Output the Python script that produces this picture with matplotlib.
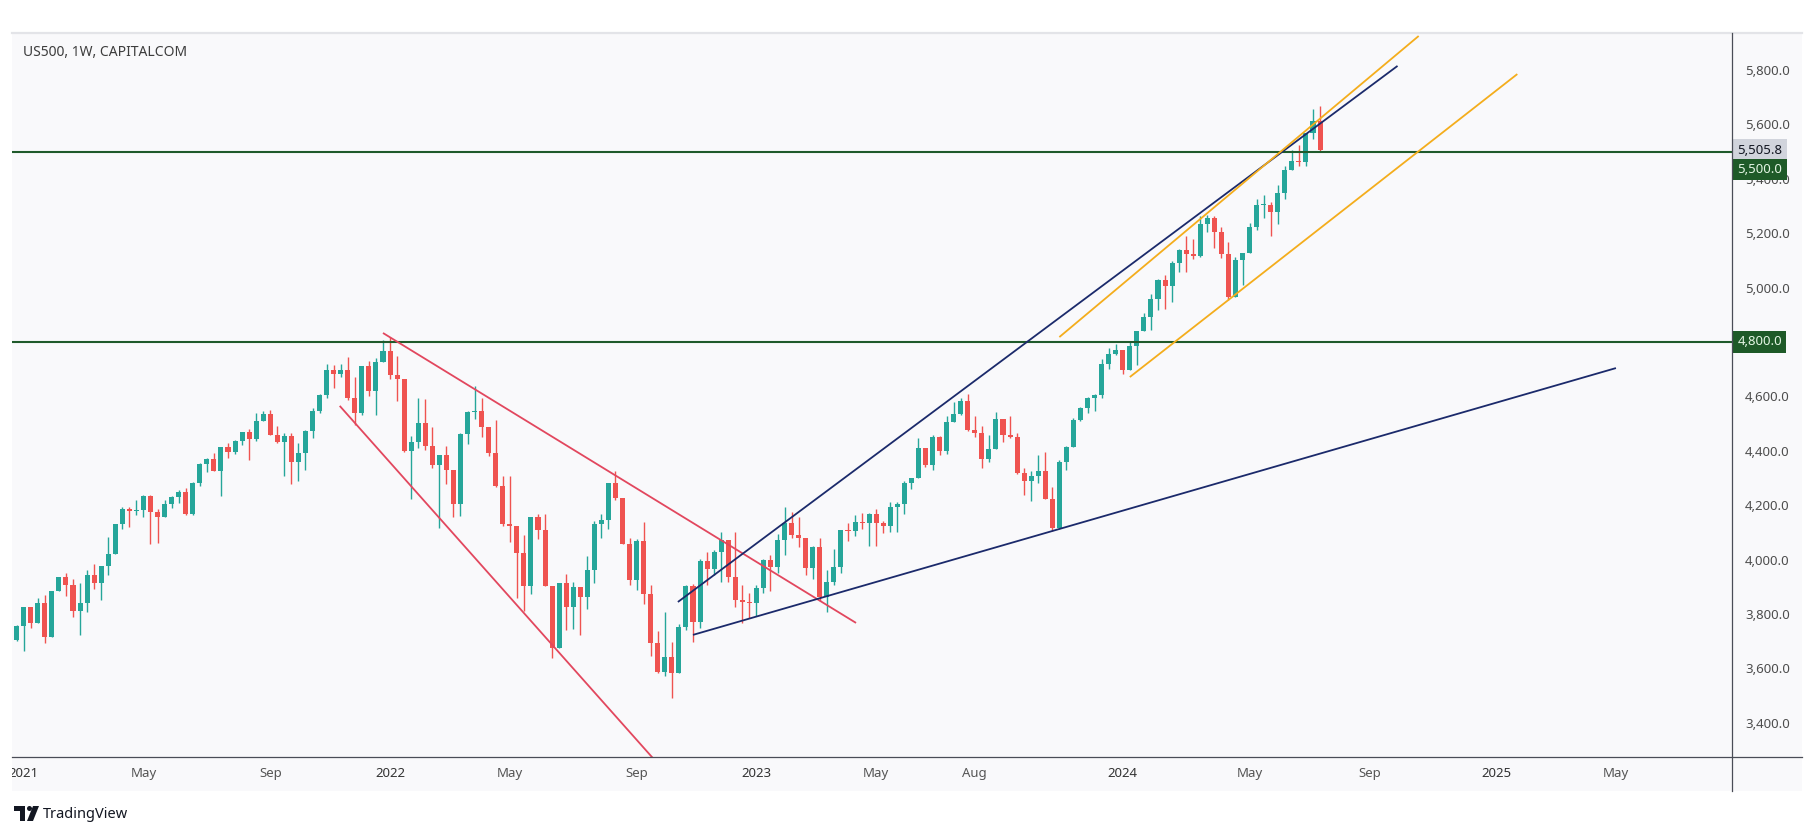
import numpy as np
import pandas as pd
import matplotlib
matplotlib.use('Agg')
import matplotlib.pyplot as plt
import matplotlib.dates as mdates
from matplotlib.patches import Rectangle, Polygon, Ellipse
from matplotlib.lines import Line2D

plt.rcParams['font.family'] = ['Noto Sans', 'DejaVu Sans']

# US500 weekly candles, first bar = week of 2020-12-28, last bar = week of 2024-07-15
open_ = [3705,
         # 2021
         3756, 3824, 3768, 3841, 3714, 3886, 3934, 3907, 3811, 3842, 3943, 3913, 3975, 4020, 4129, 4185, 4180, 4181,
         4233, 4174, 4156, 4204, 4230, 4247, 4166, 4281, 4352, 4370, 4327, 4412, 4395, 4437, 4468, 4442, 4509, 4535,
         4458, 4433, 4455, 4357, 4391, 4471, 4545, 4605, 4698, 4682, 4698, 4595, 4538, 4712, 4620, 4725,
         # 2022
         4766, 4677, 4663, 4398, 4432, 4501, 4419, 4349, 4385, 4329, 4204, 4463, 4543, 4546, 4488, 4392, 4272, 4132,
         4123, 4024, 3901, 4158, 4109, 3901, 3675, 3912, 3825, 3899, 3863, 3962, 4130, 4145, 4280, 4228, 4058, 3924,
         4067, 3873, 3693, 3586, 3640, 3583, 3752, 3901, 3771, 3993, 3965, 4026, 4072, 3934, 3852, 3845,
         # 2023
         3840, 3895, 3999, 3973, 4071, 4136, 4090, 4079, 3970, 4045, 3861, 3917, 3971, 4109, 4105, 4138, 4133, 4169,
         4136, 4124, 4192, 4205, 4282, 4299, 4410, 4348, 4450, 4399, 4505, 4536, 4582, 4478, 4464, 4370, 4406, 4516,
         4457, 4450, 4320, 4288, 4309, 4327, 4224, 4117, 4358, 4415, 4514, 4559, 4595, 4604, 4719, 4754,
         # 2024
         4770, 4697, 4784, 4840, 4891, 4959, 5027, 5006, 5089, 5137, 5124, 5117, 5234, 5254, 5204, 5123, 4967, 5100,
         5128, 5223, 5303, 5305, 5278, 5347, 5432, 5465, 5460, 5567, 5612]

high = [3760,
        3827, 3824, 3860, 3870, 3886, 3937, 3950, 3929, 3915, 3960, 3983, 3978, 4083, 4130, 4192, 4194, 4218, 4238,
        4236, 4186, 4218, 4233, 4255, 4262, 4286, 4356, 4372, 4393, 4415, 4429, 4440, 4470, 4480, 4537, 4545, 4549,
        4492, 4465, 4466, 4430, 4475, 4559, 4608, 4718, 4714, 4718, 4743, 4672, 4713, 4731, 4740, 4808,
        4818, 4749, 4663, 4453, 4595, 4590, 4489, 4385, 4416, 4329, 4465, 4546, 4637, 4593, 4488, 4512, 4309, 4307,
        4123, 4091, 4158, 4168, 4168, 3901, 3914, 3946, 3918, 3899, 4013, 4141, 4167, 4280, 4325, 4228, 4080, 4076,
        4139, 3907, 3736, 3807, 3698, 3762, 3905, 3911, 4001, 4028, 4034, 4100, 4072, 4101, 3906, 3878,
        3906, 4003, 4015, 4095, 4195, 4176, 4156, 4079, 4048, 4079, 3962, 4039, 4110, 4133, 4163, 4170, 4170, 4186,
        4143, 4212, 4213, 4290, 4299, 4448, 4410, 4458, 4456, 4528, 4578, 4594, 4607, 4528, 4490, 4458, 4541, 4516,
        4527, 4466, 4338, 4324, 4385, 4394, 4268, 4366, 4416, 4521, 4560, 4598, 4609, 4738, 4778, 4793,
        4770, 4802, 4842, 4907, 4975, 5030, 5048, 5097, 5140, 5190, 5179, 5262, 5265, 5264, 5222, 5169, 5111, 5127,
        5239, 5325, 5342, 5315, 5376, 5447, 5506, 5524, 5570, 5655, 5669]

low = [3700,
       3662, 3750, 3768, 3694, 3714, 3884, 3866, 3789, 3723, 3806, 3890, 3853, 3944, 4020, 4113, 4118, 4164, 4158,
       4056, 4062, 4156, 4191, 4208, 4164, 4164, 4271, 4321, 4327, 4233, 4372, 4387, 4420, 4367, 4436, 4509, 4458,
       4427, 4306, 4278, 4288, 4329, 4447, 4537, 4595, 4630, 4672, 4585, 4495, 4532, 4600, 4531, 4725,
       4662, 4582, 4395, 4222, 4410, 4401, 4335, 4115, 4279, 4157, 4161, 4424, 4517, 4450, 4381, 4267, 4124, 4063,
       3859, 3811, 3875, 4074, 3901, 3637, 3675, 3741, 3743, 3722, 3819, 3913, 4080, 4112, 4218, 4057, 3907, 3887,
       3838, 3647, 3584, 3573, 3491, 3583, 3741, 3698, 3750, 3906, 3944, 3919, 3918, 3827, 3765, 3784,
       3794, 3877, 3885, 3950, 4015, 4079, 4047, 3943, 3928, 3847, 3808, 3906, 3951, 4069, 4086, 4113, 4049, 4048,
       4099, 4103, 4103, 4166, 4261, 4299, 4341, 4329, 4385, 4389, 4505, 4530, 4474, 4452, 4335, 4357, 4406, 4431,
       4448, 4316, 4238, 4216, 4283, 4223, 4104, 4114, 4330, 4412, 4510, 4537, 4546, 4593, 4700, 4751,
       4682, 4697, 4714, 4840, 4845, 4918, 4920, 4946, 5058, 5057, 5104, 5111, 5204, 5146, 5107, 4953, 4967, 5011,
       5128, 5212, 5257, 5191, 5234, 5324, 5432, 5447, 5448, 5546, 5497]

close = [3756,
         3824, 3768, 3841, 3714, 3886, 3934, 3907, 3811, 3842, 3943, 3913, 3975, 4020, 4129, 4185, 4180, 4181, 4233,
         4174, 4156, 4204, 4230, 4247, 4166, 4281, 4352, 4370, 4327, 4412, 4395, 4437, 4468, 4442, 4509, 4535, 4458,
         4433, 4455, 4357, 4391, 4471, 4545, 4605, 4698, 4682, 4698, 4595, 4538, 4712, 4620, 4725, 4766,
         4677, 4663, 4398, 4432, 4501, 4419, 4349, 4385, 4329, 4204, 4463, 4543, 4546, 4488, 4392, 4272, 4132, 4123,
         4024, 3901, 4158, 4109, 3901, 3675, 3912, 3825, 3899, 3863, 3962, 4130, 4145, 4280, 4228, 4058, 3924, 4067,
         3873, 3693, 3586, 3640, 3583, 3752, 3901, 3771, 3993, 3965, 4026, 4072, 3934, 3852, 3845, 3840,
         3895, 3999, 3973, 4071, 4136, 4090, 4079, 3970, 4045, 3861, 3917, 3971, 4109, 4105, 4138, 4133, 4169, 4136,
         4124, 4192, 4205, 4282, 4299, 4410, 4348, 4450, 4399, 4505, 4536, 4582, 4478, 4464, 4370, 4406, 4516, 4457,
         4450, 4320, 4288, 4309, 4327, 4224, 4117, 4358, 4415, 4514, 4559, 4595, 4604, 4719, 4754, 4770,
         4697, 4784, 4840, 4891, 4959, 5027, 5006, 5089, 5137, 5124, 5117, 5234, 5254, 5204, 5123, 4967, 5100, 5128,
         5223, 5303, 5305, 5278, 5347, 5432, 5465, 5460, 5567, 5612, 5506]

last_price = 5505.8
levels = [5500, 4800]

# drawn trend lines: (dates, prices)
red_upper = (['2021-12-27', '2023-04-11'], [4833, 3767])
red_lower = (['2021-11-14', '2022-11-01'], [4565, 3100])
navy_upper = (['2022-10-16', '2024-09-30'], [3844, 5815])
navy_lower = (['2022-10-31', '2025-05-05'], [3723, 4704])
orange_upper = (['2023-10-30', '2024-10-21'], [4818, 5925])
orange_lower = (['2024-01-08', '2025-01-27'], [4671, 5785])

tick_dates = ['2021-01-04', '2021-05-03', '2021-09-06', '2022-01-03', '2022-05-02', '2022-09-05', '2023-01-02',
              '2023-05-01', '2023-08-07', '2024-01-01', '2024-05-06', '2024-09-02', '2025-01-06', '2025-05-05']
tick_text = ['2021', 'May', 'Sep', '2022', 'May', 'Sep', '2023', 'May', 'Aug', '2024', 'May', 'Sep', '2025', 'May']
price_ticks = list(range(3400, 5801, 200))

W, H = 1815, 836
fig = plt.figure(figsize=(W / 100, H / 100), dpi=100)
fig.patch.set_facecolor('white')


def fx(px):
    return px / W


def fy(py):
    return 1 - py / H


panel_bg = '#f9f9fb'
frame = Rectangle((fx(12.5), fy(791)), (1802 - 12.5) / W, (791 - 33) / H, transform=fig.transFigure,
                  facecolor=panel_bg, edgecolor='none', zorder=-5)
fig.patches.append(frame)

ax = fig.add_axes([fx(12.5), fy(757), (1732.5 - 12.5) / W, (757 - 33) / H])
ax.set_facecolor(panel_bg)
for s in ax.spines.values():
    s.set_visible(False)

x = mdates.date2num(pd.date_range('2020-12-28', periods=len(close), freq='W-MON'))
o = np.array(open_)
c = np.array(close)
colors = np.where(c >= o, '#26a69a', '#ef5350')
ax.vlines(x, low, high, colors=colors, lw=1, zorder=2)
ax.bar(x, np.maximum(np.abs(c - o), 3), bottom=np.minimum(o, c), width=5, color=colors, linewidth=0, zorder=3)

for lv in levels:
    ax.axhline(lv, color='#1f5a2b', lw=1.5, zorder=4)


def trend(line, color):
    d, p = line
    ax.plot(mdates.date2num(pd.to_datetime(d)), p, color=color, lw=1.3, zorder=5, solid_capstyle='butt')


trend(red_upper, '#e2475e')
trend(red_lower, '#e2475e')
trend(navy_upper, '#1b2a6b')
trend(navy_lower, '#1b2a6b')
trend(orange_upper, '#f4ad1c')
trend(orange_lower, '#f4ad1c')

x0 = mdates.date2num(pd.Timestamp('2022-01-03'))
ax.set_xlim(x0 - 375.1, x0 + 1333.8)
ax.set_ylim(3274, 5936)

ax.set_xticks(mdates.date2num(pd.to_datetime(tick_dates)))
ax.set_xticklabels(tick_text)
ax.tick_params(axis='x', length=0, pad=7, labelsize=9.5, labelcolor='#555555')
clip_rect = Rectangle((fx(12.5), 0), (1802 - 12.5) / W, 1, transform=fig.transFigure)
for lbl in ax.get_xticklabels():
    if lbl.get_text().isdigit():
        lbl.set_fontweight('bold')
        lbl.set_color('#333333')
    lbl.set_clip_path(clip_rect)

# the 4,800.0 scale label sits fully under the level tag
ax.yaxis.tick_right()
ax.set_yticks(price_ticks)
ax.set_yticklabels(['' if v in levels else '{:,.1f}'.format(v) for v in price_ticks])
ax.tick_params(axis='y', length=0, pad=9, labelsize=9.5, labelcolor='#4d4d4d')

# price labels on the scale
ax.annotate('{:,.1f}'.format(last_price), xy=(1, last_price), xycoords=('axes fraction', 'data'),
            xytext=(5, 0), textcoords='offset pixels', ha='left', va='center', fontsize=9.5, color='#131722',
            bbox=dict(boxstyle='square,pad=0.32', fc='#d1d4dc', ec='none'), annotation_clip=False, zorder=10)
ax.annotate('{:,.1f}'.format(levels[0]), xy=(1, levels[0]), xycoords=('axes fraction', 'data'),
            xytext=(5, -18), textcoords='offset pixels', ha='left', va='center', fontsize=9.5, color='#e3f5e3',
            bbox=dict(boxstyle='square,pad=0.32', fc='#1e5a28', ec='none'), annotation_clip=False, zorder=10)
ax.annotate('{:,.1f}'.format(levels[1]), xy=(1, levels[1]), xycoords=('axes fraction', 'data'),
            xytext=(5, 0), textcoords='offset pixels', ha='left', va='center', fontsize=9.5, color='#e3f5e3',
            bbox=dict(boxstyle='square,pad=0.32', fc='#1e5a28', ec='none'), annotation_clip=False, zorder=10)

# frame lines
fig.lines.append(Line2D([fx(12.5), fx(1802)], [fy(33), fy(33)], transform=fig.transFigure, color='#e3e4e8', lw=1.6))
fig.lines.append(Line2D([fx(1732.5), fx(1732.5)], [fy(33), fy(791)], transform=fig.transFigure, color='#4a4d57', lw=0.9))
fig.lines.append(Line2D([fx(12.5), fx(1802)], [fy(757), fy(757)], transform=fig.transFigure, color='#4a4d57', lw=0.9))

fig.text(fx(23), fy(53), 'US500, 1W, CAPITALCOM', fontsize=10, color='#3d3d3d', ha='left', va='center')

# TradingView mark
logo = '#131722'
fig.patches.append(Polygon([(fx(14), fy(806)), (fx(25), fy(806)), (fx(25), fy(821)), (fx(20), fy(821)),
                            (fx(20), fy(811)), (fx(14), fy(811))], closed=True, transform=fig.transFigure,
                           facecolor=logo, edgecolor='none'))
fig.patches.append(Ellipse((fx(29.5), fy(808.5)), 5 / W, 5 / H, transform=fig.transFigure, facecolor=logo,
                           edgecolor='none'))
fig.patches.append(Polygon([(fx(33), fy(806)), (fx(39), fy(806)), (fx(33), fy(821)), (fx(27), fy(821))],
                           closed=True, transform=fig.transFigure, facecolor=logo, edgecolor='none'))
fig.text(fx(43), fy(814), 'TradingView', fontsize=10.5, color=logo, ha='left', va='center')

fig.savefig('out.png', dpi=100, facecolor='white')
